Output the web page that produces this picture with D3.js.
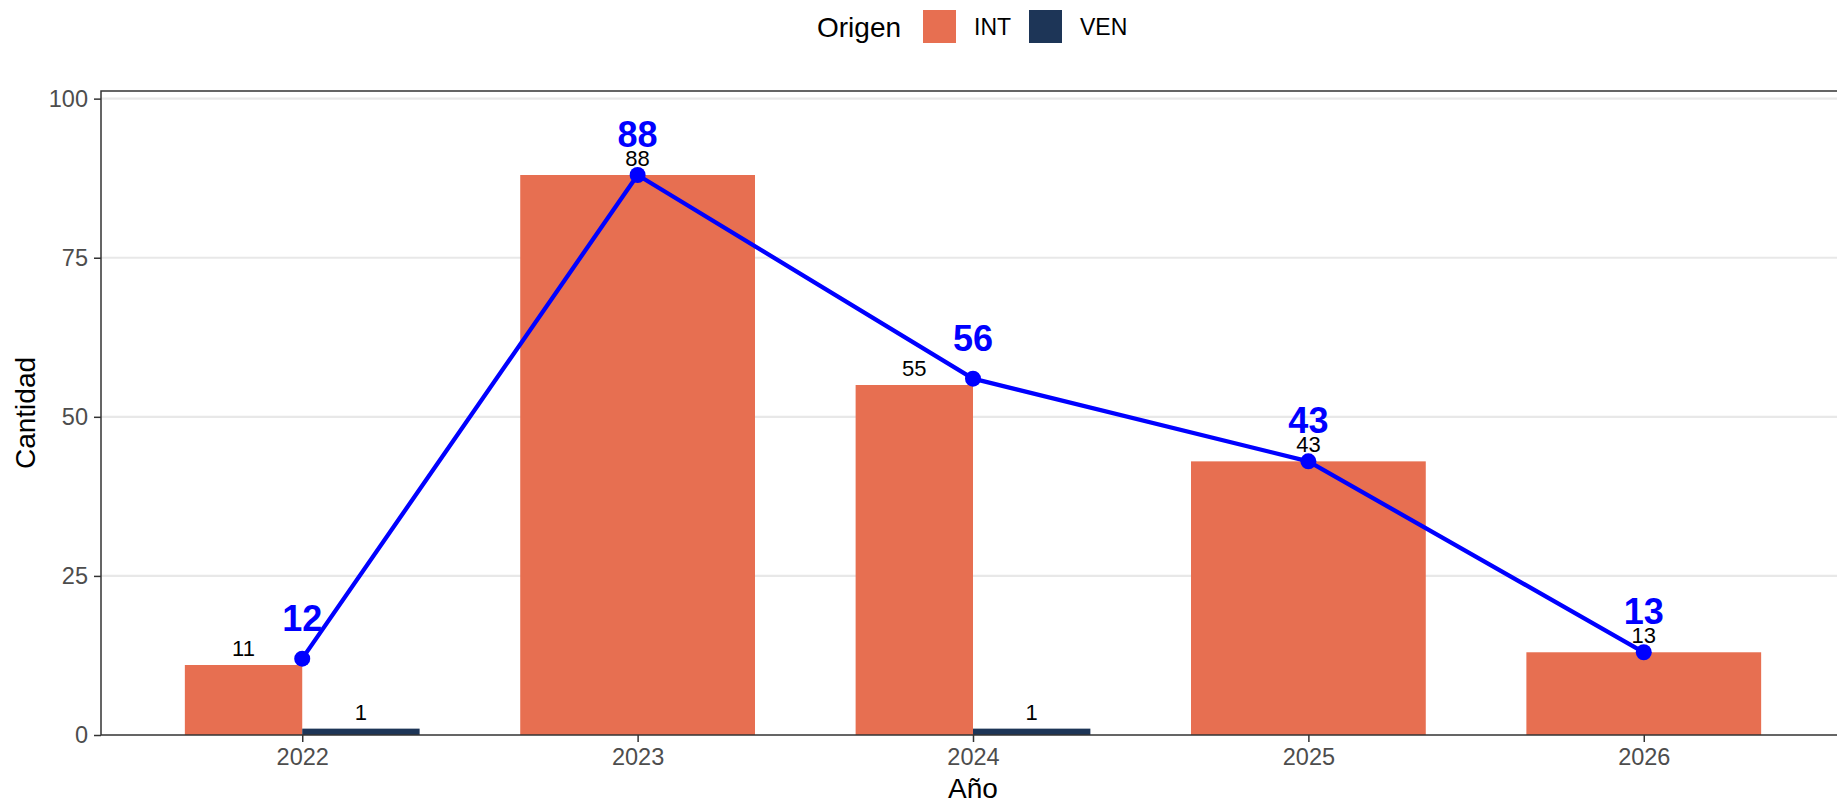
<!DOCTYPE html>
<html>
<head>
<meta charset="utf-8">
<script src="https://cdn.jsdelivr.net/npm/d3@7"></script>
<style>
  html, body { margin: 0; padding: 0; background: #fff; }
  svg { display: block; font-family: "Liberation Sans", Arial, sans-serif; }
</style>
</head>
<body>
<svg id="chart" width="1837" height="804"></svg>
<script>
// Data
const years = ["2022", "2023", "2024", "2025", "2026"];
const intValues = [11, 88, 55, 43, 13];
const venValues = [1, null, 1, null, null];
const totals = [12, 88, 56, 43, 13];
const yTicks = [0, 25, 50, 75, 100];
const origins = ["INT", "VEN"];
const originColors = ["#E76F51", "#1D3557"];

const svg = d3.select("#chart");
const W = 1837, H = 804;

// Panel geometry
const panel = { left: 101, right: 1845, top: 91, bottom: 735 };

// Discrete x positions 1..n with 0.6 expansion on both sides
const x = d3.scaleLinear()
  .domain([0.4, years.length + 0.6])
  .range([panel.left, panel.right]);
const y = d3.scaleLinear()
  .domain([0, d3.max(totals) * 1.15])
  .range([panel.bottom, panel.top]);

const barWidth = 0.7;
const color = d3.scaleOrdinal().domain(origins).range(originColors);

// Gridlines
svg.append("g").selectAll("line")
  .data(yTicks.filter(t => t > 0))
  .join("line")
  .attr("x1", panel.left).attr("x2", W)
  .attr("y1", d => y(d)).attr("y2", d => y(d))
  .attr("stroke", "#e8e8e8").attr("stroke-width", 2.2);

// Bars, dodged within each year
const barData = [];
years.forEach((yr, i) => {
  const present = [];
  if (intValues[i] != null) present.push({ origin: "INT", value: intValues[i] });
  if (venValues[i] != null) present.push({ origin: "VEN", value: venValues[i] });
  const w = barWidth / present.length;
  present.forEach((p, j) => {
    const x0 = (i + 1) - barWidth / 2 + j * w;
    barData.push({ ...p, x0, x1: x0 + w });
  });
});

svg.append("g").selectAll("rect")
  .data(barData)
  .join("rect")
  .attr("x", d => x(d.x0))
  .attr("width", d => x(d.x1) - x(d.x0))
  .attr("y", d => y(d.value))
  .attr("height", d => y(0) - y(d.value))
  .attr("fill", d => color(d.origin));

// Bar value labels
svg.append("g").selectAll("text")
  .data(barData)
  .join("text")
  .attr("x", d => x((d.x0 + d.x1) / 2))
  .attr("y", d => y(d.value) - 9)
  .attr("text-anchor", "middle")
  .attr("font-size", 22)
  .attr("fill", "#000")
  .text(d => d.value);

// Total line with points
const lineGen = d3.line()
  .x((d, i) => x(i + 1))
  .y(d => y(d));
svg.append("path")
  .datum(totals)
  .attr("d", lineGen)
  .attr("fill", "none")
  .attr("stroke", "#0000FF")
  .attr("stroke-width", 4.3)
  .attr("stroke-linejoin", "round");

svg.append("g").selectAll("circle")
  .data(totals)
  .join("circle")
  .attr("cx", (d, i) => x(i + 1))
  .attr("cy", d => y(d))
  .attr("r", 8)
  .attr("fill", "#0000FF");

svg.append("g").selectAll("text")
  .data(totals)
  .join("text")
  .attr("x", (d, i) => x(i + 1))
  .attr("y", d => y(d) - 28)
  .attr("text-anchor", "middle")
  .attr("font-size", 36)
  .attr("font-weight", "bold")
  .attr("fill", "#0000FF")
  .text(d => d);

// Panel border
svg.append("rect")
  .attr("x", panel.left).attr("y", panel.top)
  .attr("width", panel.right - panel.left)
  .attr("height", panel.bottom - panel.top)
  .attr("fill", "none")
  .attr("stroke", "#333333")
  .attr("stroke-width", 1.5);

// Y axis
const yAxis = svg.append("g")
  .attr("transform", `translate(${panel.left},0)`)
  .call(d3.axisLeft(y).tickValues(yTicks).tickSize(7).tickPadding(6));
yAxis.select(".domain").remove();
yAxis.selectAll(".tick line").attr("stroke", "#333333").attr("stroke-width", 1.5);
yAxis.selectAll(".tick text")
  .attr("font-size", 23.5)
  .attr("fill", "#4d4d4d")
  .attr("font-family", "Liberation Sans, Arial, sans-serif");

// X axis
const xAxis = svg.append("g")
  .attr("transform", `translate(0,${panel.bottom})`)
  .call(d3.axisBottom(x)
    .tickValues(years.map((d, i) => i + 1))
    .tickFormat((d) => years[d - 1])
    .tickSize(7).tickPadding(6));
xAxis.select(".domain").remove();
xAxis.selectAll(".tick line").attr("stroke", "#333333").attr("stroke-width", 1.5);
xAxis.selectAll(".tick text")
  .attr("font-size", 23.5)
  .attr("fill", "#4d4d4d")
  .attr("font-family", "Liberation Sans, Arial, sans-serif");

// Axis titles
svg.append("text")
  .attr("x", (panel.left + panel.right) / 2)
  .attr("y", 798)
  .attr("text-anchor", "middle")
  .attr("font-size", 28)
  .attr("fill", "#000")
  .text("Año");

svg.append("text")
  .attr("transform", `translate(35,${(panel.top + panel.bottom) / 2}) rotate(-90)`)
  .attr("text-anchor", "middle")
  .attr("font-size", 28)
  .attr("fill", "#000")
  .text("Cantidad");

// Legend
const legend = svg.append("g");
legend.append("text")
  .attr("x", 817).attr("y", 37)
  .attr("font-size", 28)
  .attr("fill", "#000")
  .text("Origen");
const keyX = [923, 1029];
origins.forEach((o, i) => {
  legend.append("rect")
    .attr("x", keyX[i]).attr("y", 10)
    .attr("width", 33).attr("height", 33)
    .attr("fill", color(o));
  legend.append("text")
    .attr("x", keyX[i] + 51).attr("y", 35)
    .attr("font-size", 23)
    .attr("fill", "#000")
    .text(o);
});
</script>
</body>
</html>
